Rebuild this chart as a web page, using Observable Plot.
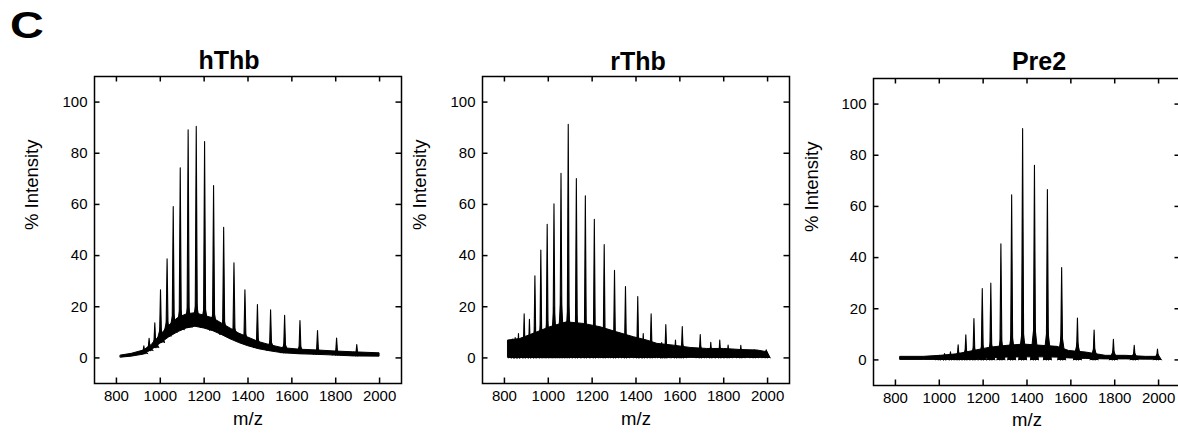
<!DOCTYPE html>
<html>
<head>
<meta charset="utf-8">
<script src="https://cdn.jsdelivr.net/npm/d3@7"></script>
<script src="https://cdn.jsdelivr.net/npm/@observablehq/plot@0.6"></script>
<style>
html, body { margin: 0; padding: 0; background: #fff; overflow: hidden; }
#wrap { position: relative; width: 1178px; height: 434px; overflow: hidden; font-family: "Liberation Sans", Arial, sans-serif; }
.panel { position: absolute; top: 0; }
#letter { position: absolute; left: 10px; top: 8px; font-size: 36px; font-weight: bold; line-height: 35px; transform: scaleX(1.3); transform-origin: left top; color: #000; }
</style>
</head>
<body>
<div id="wrap"><div id="letter">C</div></div>
<script>
// ---- axes ----
const xTicks = [800, 1000, 1200, 1400, 1600, 1800, 2000];
const yTicks = [0, 20, 40, 60, 80, 100];
const xLabel = "m/z";
const yLabel = "% Intensity";
const titles = ["hThb", "rThb", "Pre2"];

// ---- hThb ----
const hThbEnvMz   = [820, 870, 925, 960, 1000, 1040, 1080, 1120, 1160, 1200, 1240, 1280, 1320, 1360, 1400, 1450, 1500, 1560, 1640, 1720, 1800, 1880, 2000];
const hThbEnvLow  = [0.1, 0.5, 1.3, 3, 5.5, 8, 10, 11.5, 12.2, 11.5, 10.5, 9, 7.3, 5.8, 4.6, 3.4, 2.6, 1.8, 1.4, 1.2, 0.9, 0.6, 0.5];
const hThbEnvHigh = [0.9, 1.6, 2.9, 5, 8.7, 12.5, 15.5, 17, 17.5, 16.5, 15.5, 13.5, 11.5, 9.5, 8, 6.2, 5, 3.8, 3.2, 2.9, 2.5, 2.2, 1.8];
const hThbPeakMz       = [925, 949, 975, 1001, 1031, 1059, 1091, 1127, 1164, 1202, 1243, 1289, 1336, 1386, 1443, 1503, 1567, 1637, 1717, 1804, 1896];
const hThbPeakTop      = [4.7, 7.7, 13.7, 26.6, 38.7, 59.2, 74.3, 89.2, 90.5, 84.6, 67.4, 51.1, 37.2, 26.6, 20.9, 18.8, 16.7, 14.6, 10.7, 7.8, 5.2];
const hThbPeakBase     = [1.6, 2.8, 4, 6, 8.5, 10, 11, 12, 12.5, 12, 10.8, 9.2, 7.5, 6, 4, 3, 2, 1.7, 1.4, 1.1, 0.8];
const hThbPeakShoulder = [3.5, 5, 7.5, 12, 15, 18, 20, 21, 22, 21, 19, 15.5, 12.5, 10, 8, 7, 6, 5, 4, 3.2, 2.6];

// ---- rThb ----
const rThbEnvMz   = [818, 872, 933, 1009, 1085, 1161, 1238, 1314, 1390, 1451, 1497, 1573, 1649, 1725, 1801, 1878, 1954, 2000];
const rThbEnvLow  = [0, 0, 0, 0, 0, 0, 0, 0, 0, 0, 0, 0, 0, 0, 0, 0, 0, 0];
const rThbEnvHigh = [6.8, 7.4, 9.4, 12, 13.9, 13.3, 12, 10, 8.1, 6.8, 5.5, 4.8, 3.9, 3.5, 3.5, 3.1, 2.9, 2.2];
const rThbPeakMz       = [838, 849, 864, 890, 914, 939, 966, 995, 1026, 1058, 1091, 1128, 1169, 1210, 1255, 1302, 1352, 1408, 1433, 1469, 1517, 1536, 1580, 1611, 1693, 1741, 1782, 1820, 1878, 1939, 1994];
const rThbPeakTop      = [7.4, 8, 9.5, 17.2, 15.1, 32.1, 42.2, 52.2, 60.2, 72.2, 91.3, 70.1, 63.4, 54.2, 44.3, 34.2, 27.9, 24.0, 9.5, 17.2, 6, 13.0, 7, 12.3, 9.1, 6.1, 7.0, 5.0, 4.9, 3.2, 3.2];
const rThbPeakBase     = [0, 0, 0, 0, 0, 0, 0, 0, 0, 0, 0, 0, 0, 0, 0, 0, 0, 0, 0, 0, 0, 0, 0, 0, 0, 0, 0, 0, 0, 0, 0];
const rThbPeakShoulder = [6, 6, 7, 9, 9, 12, 14, 16, 20, 24, 22, 18, 16, 14, 12, 10, 9, 8, 6, 7, 5, 6, 5, 6, 5, 4, 4, 3.5, 3.5, 3, 3];

// ---- Pre2 ----
const pre2EnvMz   = [823, 929, 1006, 1082, 1158, 1234, 1310, 1386, 1470, 1539, 1592, 1668, 1759, 1851, 1942, 1995];
const pre2EnvLow  = [0, 0, 0, 0, 0.3, 0.7, 0.9, 1, 1, 0.9, 0.6, 0.4, 0.2, 0.2, 0.1, 0.1];
const pre2EnvHigh = [1.2, 1.2, 1.6, 2.2, 3.5, 4.8, 5.5, 6, 5.5, 5.1, 3.5, 2.9, 1.6, 1.6, 1.2, 1.2];
const pre2PeakMz       = [1000, 1024, 1051, 1086, 1121, 1158, 1196, 1235, 1281, 1330, 1380, 1434, 1493, 1558, 1630, 1706, 1794, 1889, 1995];
const pre2PeakTop      = [1.8, 2.5, 3.2, 5.9, 9.8, 16.2, 27.9, 30.0, 45.4, 64.5, 90.4, 76.1, 66.6, 36.1, 16.4, 11.7, 8.1, 5.7, 4.2];
const pre2PeakBase     = [0, 0, 0, 0, 0, 0, 0, 0, 0, 0, 0, 0, 0, 0, 0, 0, 0, 0, 0];
const pre2PeakShoulder = [1.5, 2, 2.5, 3.5, 4.5, 5.5, 6.5, 7.5, 9, 11, 13, 15, 13, 10.5, 7, 5, 3.8, 3, 2.5];

// ---- build tables ----
const envTable = (mz, low, high) => mz.map((m, i) => ({mz: m, low: low[i], high: high[i]}));
const peakTable = (mz, top, base, sh) => mz.map((m, i) => ({mz: m, top: top[i], base: base[i], shoulder: sh[i]}));

const series = [
  {title: titles[0], env: envTable(hThbEnvMz, hThbEnvLow, hThbEnvHigh), peaks: peakTable(hThbPeakMz, hThbPeakTop, hThbPeakBase, hThbPeakShoulder),
   left: 0, width: 410, mL: 94, mR: 9, mT: 76, mB: 51, titleDx: -19, titleDy: -25, ylabDx: -62, xlabDy: 41},
  {title: titles[1], env: envTable(rThbEnvMz, rThbEnvLow, rThbEnvHigh), peaks: peakTable(rThbPeakMz, rThbPeakTop, rThbPeakBase, rThbPeakShoulder),
   left: 390, width: 410, mL: 92, mR: 11, mT: 76, mB: 51, titleDx: 2, titleDy: -24, ylabDx: -62, xlabDy: 41},
  {title: titles[2], env: envTable(pre2EnvMz, pre2EnvLow, pre2EnvHigh), peaks: peakTable(pre2PeakMz, pre2PeakTop, pre2PeakBase, pre2PeakShoulder),
   left: 780, width: 410, mL: 93, mR: 10, mT: 78, mB: 49, titleDx: 12, titleDy: -26, ylabDx: -61, xlabDy: 40}
];

const FONT = "'Liberation Sans', Arial, sans-serif";
const TICK = 5.5;

const wrap = document.getElementById("wrap");
for (const s of series) {
  const H = 434;
  const frameH = H - s.mT - s.mB;
  const frameW = s.width - s.mL - s.mR;
  const chart = Plot.plot({
    width: s.width,
    height: H,
    marginLeft: s.mL, marginRight: s.mR, marginTop: s.mT, marginBottom: s.mB,
    style: {fontFamily: FONT, fontSize: "15px", color: "#000", background: "transparent", maxWidth: "none", overflow: "visible"},
    x: {domain: [700, 2100]},
    y: {domain: [-10, 110]},
    length: {type: "linear", domain: [0, 120], range: [0, frameH]},
    marks: [
      Plot.areaY(s.env, {x: "mz", y1: "low", y2: "high", fill: "#000", stroke: "#000", strokeWidth: 1}),
      Plot.spike(s.peaks, {x: "mz", y: "base", length: d => d.shoulder - d.base, r: 4, fill: "#000", fillOpacity: 1, stroke: "#000", strokeWidth: 1}),
      Plot.spike(s.peaks, {x: "mz", y: "base", length: d => d.top - d.base, r: 1.1, fill: "#000", fillOpacity: 1, stroke: "#000", strokeWidth: 1.1}),
      Plot.frame({stroke: "#000", strokeWidth: 1.5}),
      // inward ticks on all four sides
      Plot.tickX(xTicks, {x: d => d, insetTop: frameH - TICK, stroke: "#000", strokeWidth: 1.5}),
      Plot.tickX(xTicks, {x: d => d, insetBottom: frameH - TICK, stroke: "#000", strokeWidth: 1.5}),
      Plot.tickY(yTicks, {y: d => d, insetRight: frameW - TICK, stroke: "#000", strokeWidth: 1.5}),
      Plot.tickY(yTicks, {y: d => d, insetLeft: frameW - TICK, stroke: "#000", strokeWidth: 1.5}),
      // tick labels
      Plot.axisX({anchor: "bottom", ticks: xTicks, tickSize: 0, tickPadding: 6.5, tickFormat: d => `${d}`, label: null, fontSize: 15}),
      Plot.axisY({anchor: "left", ticks: yTicks, tickSize: 0, tickPadding: 7, tickFormat: d => `${d}`, label: null, fontSize: 15}),
      Plot.text([s.title], {frameAnchor: "top", text: d => d, dx: s.titleDx, dy: s.titleDy, fontSize: 25, fontWeight: "bold", fill: "#000"}),
      Plot.text([xLabel], {frameAnchor: "bottom", text: d => d, dy: s.xlabDy, fontSize: 18.5, fill: "#000"}),
      Plot.text([yLabel], {frameAnchor: "left", text: d => d, dx: s.ylabDx, rotate: -90, fontSize: 18.5, fill: "#000"})
    ]
  });
  chart.classList.add("panel");
  chart.style.left = s.left + "px";
  chart.style.position = "absolute";
  chart.style.top = "0px";
  wrap.appendChild(chart);
}
</script>
</body>
</html>
